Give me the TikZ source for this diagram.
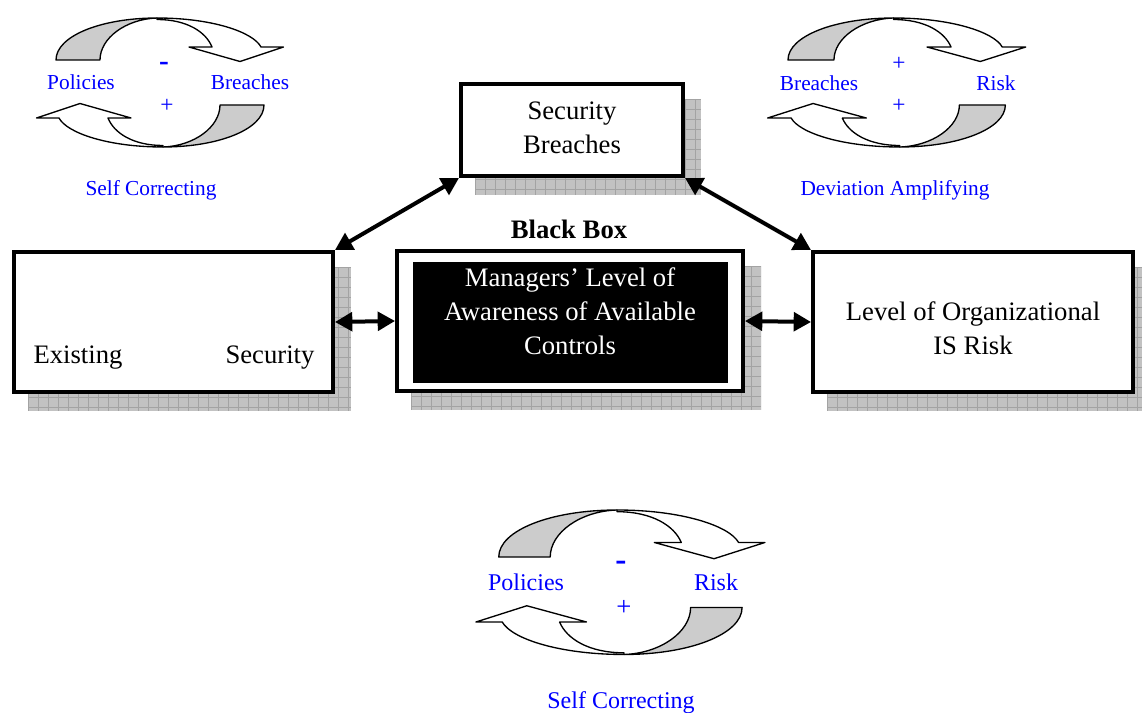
\documentclass[tikz,border=0pt]{standalone}
\usepackage{fontspec}
\setmainfont{Liberation Serif}
\usetikzlibrary{arrows.meta}

% one half of a circular feedback ribbon (back face in grey, front face with arrow head)
\newcommand\ribbonhalf{%
  \filldraw[ribbonback] (22,42) .. controls (22,18) and (67,0) .. (123,0)
      .. controls (92,1) and (66,20) .. (66,42) -- cycle;
  \filldraw[ribbonfront] (123,0) .. controls (178,0) and (219,14) .. (227,29)
      -- (249.5,29) -- (206,43.5) -- (155,29) -- (178,29)
      .. controls (172,14) and (153,1.5) .. (123,1.5) -- cycle;
}
% full loop: two ribbon halves, the second one turned half a turn
\newcommand\feedbackloop{%
  \ribbonhalf
  \begin{scope}[rotate around={180:(126,64.5)}]\ribbonhalf\end{scope}
}
% hatched drop shade behind a box
\newcommand\dropshade[4]{%
  \fill[shadefill] (#1,#2) rectangle (#3,#4);
  \begin{scope}
    \clip (#1,#2) rectangle (#3,#4);
    \foreach \gx in {0,10,...,360} \draw[shadegrid] ({#1+\gx},#2) -- ({#1+\gx},#4);
    \foreach \gy in {0,10,...,160} \draw[shadegrid] (#1,{#2+\gy}) -- (#3,{#2+\gy});
  \end{scope}}

\begin{document}
\begin{tikzpicture}[x=0.75pt,y=-0.75pt,
  ribbonback/.style={draw=black,line width=1pt,fill=black!20,line join=round},
  ribbonfront/.style={draw=black,line width=1pt,fill=white,line join=round},
  shadefill/.style={fill=black!24},
  shadegrid/.style={draw=black!36,line width=0.4pt},
  box/.style={draw=black,line width=3pt,fill=white,inner sep=0pt,outer sep=1.5pt},
  corebox/.style={fill=black,inner sep=0pt},
  boxtext/.style={font=\fontsize{20}{25.5}\selectfont,align=center,inner sep=0pt},
  looptext/.style={text=blue,font=\fontsize{16}{19}\selectfont,inner sep=0pt},
  bigloopt/.style={text=blue,font=\fontsize{18}{21}\selectfont,inner sep=0pt},
  signtext/.style={text=blue,font=\bfseries\fontsize{22}{22}\selectfont,inner sep=0pt},
  plustext/.style={text=blue,font=\fontsize{17.5}{20}\selectfont,inner sep=0pt},
  link/.style={line width=3pt,{Triangle[length=13pt,width=14pt]}-{Triangle[length=13pt,width=14pt]}}
]
\useasboundingbox (0,0) rectangle (1142,713);

% ---------- feedback loops ----------
\begin{scope}[shift={(34,18)}]
  \feedbackloop
\end{scope}
\node[looptext] (tlA) at (81,82) {Policies};
\node[looptext] (tlB) at (250,82) {Breaches};
\node[signtext] (tlMinus) at (164,66) {-};
\node[plustext] (tlPlus) at (167,106) {+};
\node[looptext] (tlCap) at (151,190) {Self Correcting};

\begin{scope}[shift={(765,18)},xscale=1.045]
  \feedbackloop
\end{scope}
\node[looptext] (trA) at (819,83) {Breaches};
\node[looptext] (trB) at (996,83) {Risk};
\node[plustext] (trPlusA) at (899,64) {+};
\node[plustext] (trPlusB) at (899,106) {+};
\node[looptext] (trCap) at (895,190) {Deviation Amplifying};

\begin{scope}[shift={(473,510)},xscale=1.17,yscale=1.12]
  \feedbackloop
\end{scope}
\node[bigloopt] (bA) at (526,582) {Policies};
\node[bigloopt] (bB) at (716,582) {Risk};
\node[signtext,font=\bfseries\fontsize{25}{25}\selectfont] (bMinus) at (621,566) {-};
\node[plustext,font=\fontsize{20}{22}\selectfont] (bPlus) at (624,608) {+};
\node[bigloopt] (bCap) at (621,703) {Self Correcting};

% ---------- shades ----------
\dropshade{475}{99}{701}{195}
\dropshade{28}{267}{351}{411}
\dropshade{411}{266}{761}{410}
\dropshade{827}{267}{1142}{411}

% ---------- boxes ----------
\node[box,minimum width=166.5pt,minimum height=69pt] (sb) at (572,130) {};
\node[boxtext] (sbText) at (572,127.5) {Security\\Breaches};

\node[box,minimum width=239.25pt,minimum height=105pt] (ex) at (173.5,322) {};
\node[boxtext] (exA) at (78,358) {Existing};
\node[boxtext] (exB) at (270,358) {Security};

\node[box,minimum width=259.5pt,minimum height=105pt] (mid) at (570,321) {};
\node[corebox,minimum width=236.25pt,minimum height=90.75pt] (core) at (570.5,322.5) {};
\node[boxtext,text=white] (coreText) at (570,311.5) {Managers’ Level of\\Awareness of Available\\Controls};
\node[boxtext,font=\bfseries\fontsize{20}{24}\selectfont] (bbox) at (569,229) {Black Box};

\node[box,minimum width=240pt,minimum height=105pt] (risk) at (973,322) {};
\node[boxtext] (riskText) at (973,328) {Level of Organizational\\IS Risk};

% ---------- links ----------
\draw[link] (sb.south west) -- (ex.north east);
\draw[link] (sb.south east) -- (risk.north west);
\draw[link] (ex.east) -- (mid.west);
\draw[link] (mid.east) -- (risk.west);
\end{tikzpicture}
\end{document}
